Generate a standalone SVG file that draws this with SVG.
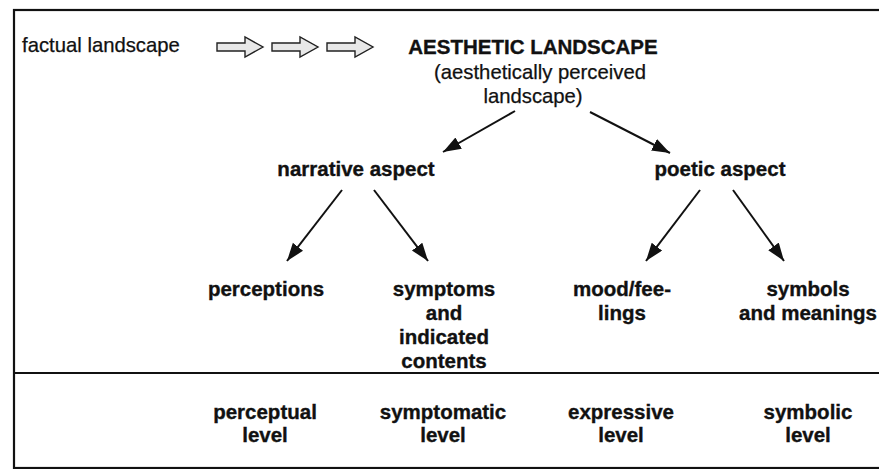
<svg xmlns="http://www.w3.org/2000/svg" width="879" height="469" viewBox="0 0 879 469">
<style>
text{font-family:"Liberation Sans",Arial,Helvetica,sans-serif;fill:#111;}
.r{font-size:20.3px;stroke:#111;stroke-width:0.25;}
.b{font-size:20.5px;font-weight:bold;text-anchor:middle;stroke:#111;stroke-width:0.35;}
.c{text-anchor:middle;}
.frame{fill:none;stroke:#111;stroke-width:2.2;}
.con{stroke:#111;stroke-width:2;fill:none;marker-end:url(#ah);}
.hol{fill:#e8e8e8;stroke:#222;stroke-width:1.4;stroke-linejoin:miter;}
</style>
<defs>
<marker id="ah" markerUnits="userSpaceOnUse" markerWidth="20" markerHeight="14" refX="18" refY="6.5" orient="auto">
<path d="M0,0 L18,6.5 L0,13 Z" fill="#111"/>
</marker>
<path id="hollow" d="M0,-4 L28,-4 L28,-10 L46,0 L28,10 L28,4 L0,4 Z"/>
</defs>
<rect class="frame" x="14" y="10" width="875" height="458"/>
<line class="frame" x1="14" y1="373" x2="879" y2="373"/>
<g id="factual"><text class="r" x="22" y="52">factual landscape</text></g>
<g id="hollow-arrows">
<use href="#hollow" class="hol" x="217" y="47"/>
<use href="#hollow" class="hol" x="272" y="47"/>
<use href="#hollow" class="hol" x="327" y="47"/>
</g>
<g id="aesthetic">
<text class="b" x="533" y="54">AESTHETIC LANDSCAPE</text>
<text class="r c" x="540" y="79">(aesthetically perceived</text>
<text class="r c" x="533" y="103">landscape)</text>
</g>
<g id="narrative"><text class="b" x="356" y="176">narrative aspect</text></g>
<g id="poetic"><text class="b" x="720" y="176">poetic aspect</text></g>
<g id="perceptions"><text class="b" x="266" y="296">perceptions</text></g>
<g id="symptoms">
<text class="b" x="444" y="296">symptoms</text>
<text class="b" x="444" y="320">and</text>
<text class="b" x="444" y="344">indicated</text>
<text class="b" x="444" y="368">contents</text>
</g>
<g id="mood">
<text class="b" x="622" y="296">mood/fee-</text>
<text class="b" x="622" y="320">lings</text>
</g>
<g id="symbols">
<text class="b" x="808" y="296">symbols</text>
<text class="b" x="808" y="320">and meanings</text>
</g>
<g id="levels">
<text class="b" x="265" y="419">perceptual</text>
<text class="b" x="265" y="442">level</text>
<text class="b" x="443" y="419">symptomatic</text>
<text class="b" x="443" y="442">level</text>
<text class="b" x="621" y="419">expressive</text>
<text class="b" x="621" y="442">level</text>
<text class="b" x="808" y="419">symbolic</text>
<text class="b" x="808" y="442">level</text>
</g>
<g id="connectors">
<line class="con" x1="515" y1="111" x2="443" y2="152"/>
<line class="con" x1="590" y1="112" x2="670" y2="153"/>
<line class="con" x1="342" y1="190" x2="287" y2="261"/>
<line class="con" x1="374" y1="190" x2="428" y2="261"/>
<line class="con" x1="700" y1="190" x2="646" y2="261"/>
<line class="con" x1="733" y1="190" x2="784" y2="261"/>
</g>
</svg>
